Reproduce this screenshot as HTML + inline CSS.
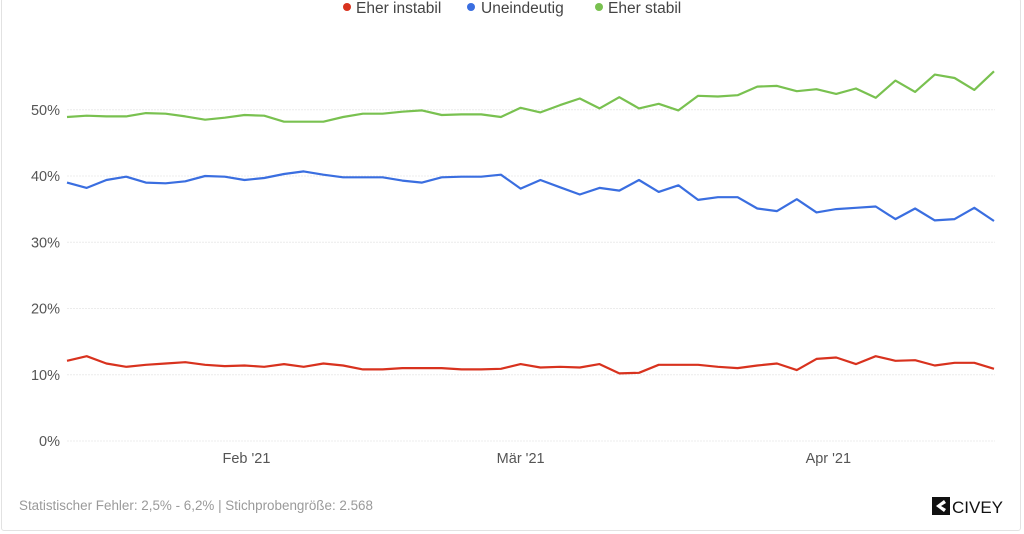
<!DOCTYPE html>
<html><head><meta charset="utf-8">
<style>
html,body{margin:0;padding:0;background:#fff;width:1024px;height:534px;overflow:hidden;font-family:"Liberation Sans",sans-serif;}
#frame{position:absolute;left:1px;top:-2px;width:1020px;height:533px;border:1px solid #e2e2e2;border-radius:3px;box-sizing:border-box;}
</style></head><body>
<div id="frame"></div>
<svg id="chart" width="1024" height="534" style="position:absolute;left:0;top:0">
<g id="legend">
<g><circle cx="347" cy="7" r="4" fill="#d8321e"/><text x="356" y="13" font-size="15.5" fill="#444">Eher instabil</text></g>
<g><circle cx="471" cy="7" r="4" fill="#3a6ee0"/><text x="481" y="13" font-size="15.5" fill="#444">Uneindeutig</text></g>
<g><circle cx="599" cy="7" r="4" fill="#79c150"/><text x="608" y="13" font-size="15.5" fill="#444">Eher stabil</text></g>
</g>
<g id="grid"></g>
<g id="yaxis"></g>
<g id="xaxis"></g>
<g id="series"></g>
<text x="19" y="510" font-size="13.5" fill="#9a9a9a" textLength="354" lengthAdjust="spacingAndGlyphs">Statistischer Fehler: 2,5% - 6,2% | Stichprobengröße: 2.568</text>
<g>
<rect x="932" y="497" width="18" height="18" fill="#111"/>
<path d="M944 500 L936 506 L944 512 L946 509 L941 506 L946 503 Z" fill="#fff"/>
<text x="952" y="513" font-size="17" fill="#111">CIVEY</text>
</g>
</svg>
<script>
const yTicks=[0,10,20,30,40,50];
const xTickLabels=["Feb '21","Mär '21","Apr '21"];
const xTickIndex=[9.1,23,38.6];
const instabil=[12.1,12.8,11.7,11.2,11.5,11.7,11.9,11.5,11.3,11.4,11.2,11.6,11.2,11.7,11.4,10.8,10.8,11.0,11.0,11.0,10.8,10.8,10.9,11.6,11.1,11.2,11.1,11.6,10.2,10.3,11.5,11.5,11.5,11.2,11.0,11.4,11.7,10.7,12.4,12.6,11.6,12.8,12.1,12.2,11.4,11.8,11.8,10.9];
const uneindeutig=[39.0,38.2,39.4,39.9,39.0,38.9,39.2,40.0,39.9,39.4,39.7,40.3,40.7,40.2,39.8,39.8,39.8,39.3,39.0,39.8,39.9,39.9,40.2,38.1,39.4,38.3,37.2,38.2,37.8,39.4,37.6,38.6,36.4,36.8,36.8,35.1,34.7,36.5,34.5,35.0,35.2,35.4,33.5,35.1,33.3,33.5,35.2,33.2];
const stabil=[48.9,49.1,49.0,49.0,49.5,49.4,49.0,48.5,48.8,49.2,49.1,48.2,48.2,48.2,48.9,49.4,49.4,49.7,49.9,49.2,49.3,49.3,48.9,50.3,49.6,50.7,51.7,50.2,51.9,50.2,50.9,49.9,52.1,52.0,52.2,53.5,53.6,52.8,53.1,52.4,53.2,51.8,54.4,52.7,55.3,54.8,53.0,55.8];
const NS="http://www.w3.org/2000/svg";
const x0=67,x1=994,y0=441,pxPer=6.625;
const n=stabil.length;
function xs(i){return x0+(x1-x0)*i/(n-1);}
function ys(v){return y0-v*pxPer;}
const grid=document.getElementById('grid'),yax=document.getElementById('yaxis'),xax=document.getElementById('xaxis'),ser=document.getElementById('series');
yTicks.forEach(t=>{
  const l=document.createElementNS(NS,'line');
  l.setAttribute('x1',67);l.setAttribute('x2',995);l.setAttribute('y1',ys(t));l.setAttribute('y2',ys(t));
  l.setAttribute('stroke','#ececec');l.setAttribute('stroke-dasharray','2,1');
  
  
  grid.appendChild(l);
  const tx=document.createElementNS(NS,'text');
  tx.setAttribute('x',60);tx.setAttribute('y',ys(t)+5);tx.setAttribute('text-anchor','end');
  tx.setAttribute('font-size','14.5');tx.setAttribute('fill','#555');
  tx.textContent=t+'%';
  
  
  yax.appendChild(tx);
});
xTickLabels.forEach((lab,k)=>{
  const tx=document.createElementNS(NS,'text');
  tx.setAttribute('x',xs(xTickIndex[k]));tx.setAttribute('y',463);tx.setAttribute('text-anchor','middle');
  tx.setAttribute('font-size','14.5');tx.setAttribute('fill','#555');
  tx.textContent=lab;
  
  
  xax.appendChild(tx);
});
[[stabil,'#79c150','line-eher-stabil'],[uneindeutig,'#3a6ee0','line-uneindeutig'],[instabil,'#d8321e','line-eher-instabil']].forEach(([d,c,nm])=>{
  const p=document.createElementNS(NS,'polyline');
  p.setAttribute('points',d.map((v,i)=>xs(i).toFixed(1)+','+ys(v).toFixed(1)).join(' '));
  p.setAttribute('fill','none');p.setAttribute('stroke',c);p.setAttribute('stroke-width','2.2');p.setAttribute('stroke-linejoin','round');
  
  
  ser.appendChild(p);
});
</script>
</body></html>
